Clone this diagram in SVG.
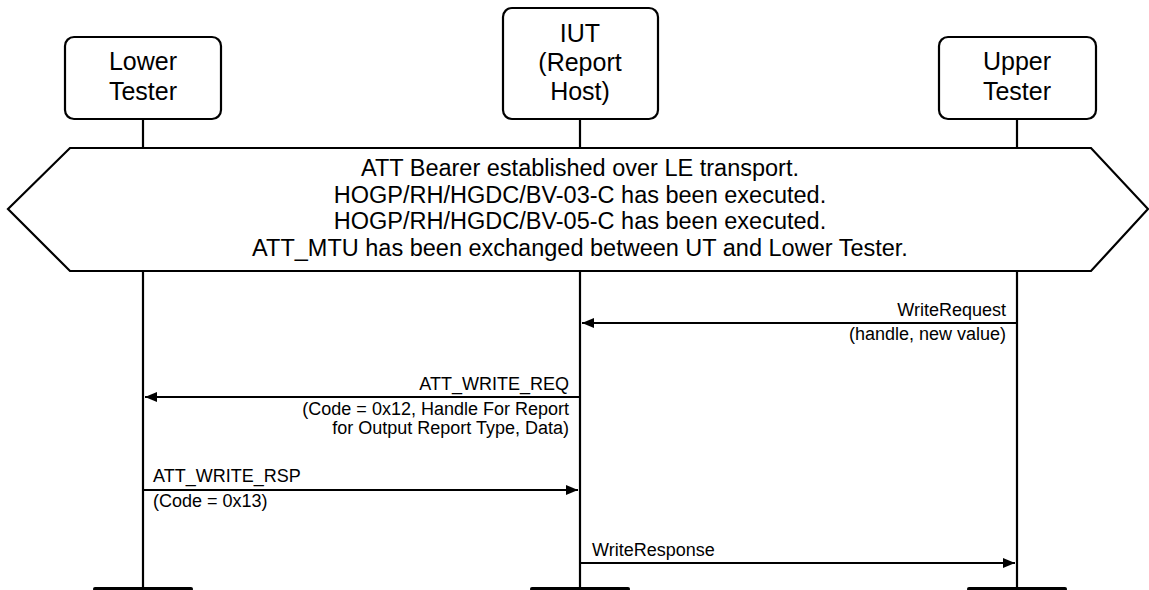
<svg xmlns="http://www.w3.org/2000/svg" width="1149" height="590" viewBox="0 0 1149 590">
<style>
.box{fill:#fff;stroke:#000;stroke-width:2.2}
.life{stroke:#000;stroke-width:2.2;fill:none}
.msg{stroke:#000;stroke-width:2;fill:none}
.bar{stroke:#000;stroke-width:4;stroke-linecap:round}
.nt{font-family:"Liberation Sans",Arial,sans-serif;font-size:25px;text-anchor:middle;fill:#000}
.ht{font-family:"Liberation Sans",Arial,sans-serif;font-size:23.5px;text-anchor:middle;fill:#000}
.ml{font-family:"Liberation Sans",Arial,sans-serif;font-size:18px;fill:#000}
.r{text-anchor:end}
</style>
<defs>
<marker id="ah" viewBox="0 0 12 10" refX="12" refY="5" markerWidth="12" markerHeight="10" markerUnits="userSpaceOnUse" orient="auto">
<path d="M0,0 L12,5 L0,10 z" fill="#000"/>
</marker>
</defs>
<g id="lifelines">
<line class="life" x1="143" y1="119" x2="143" y2="588"/>
<line class="life" x1="580" y1="119" x2="580" y2="588"/>
<line class="life" x1="1017" y1="119" x2="1017" y2="588"/>
<line class="bar" x1="95" y1="589" x2="191" y2="589"/>
<line class="bar" x1="532" y1="589" x2="628" y2="589"/>
<line class="bar" x1="969" y1="589" x2="1065" y2="589"/>
</g>
<g id="lower-tester">
<rect class="box" x="65" y="37" width="156" height="82" rx="9"/>
<text class="nt" x="143" y="70">Lower</text>
<text class="nt" x="143" y="100">Tester</text>
</g>
<g id="iut">
<rect class="box" x="503" y="8" width="155" height="111" rx="9"/>
<text class="nt" x="580" y="42">IUT</text>
<text class="nt" x="580" y="71">(Report</text>
<text class="nt" x="580" y="100">Host)</text>
</g>
<g id="upper-tester">
<rect class="box" x="939" y="37" width="157" height="82" rx="9"/>
<text class="nt" x="1017" y="70">Upper</text>
<text class="nt" x="1017" y="100">Tester</text>
</g>
<g id="precondition">
<polygon class="box" points="70,148 1091,148 1148,209 1091,271 70,271 8,209"/>
<text class="ht" x="580" y="176">ATT Bearer established over LE transport.</text>
<text class="ht" x="580" y="202.5">HOGP/RH/HGDC/BV-03-C has been executed.</text>
<text class="ht" x="580" y="229">HOGP/RH/HGDC/BV-05-C has been executed.</text>
<text class="ht" x="580" y="255.5">ATT_MTU has been exchanged between UT and Lower Tester.</text>
</g>
<g id="connectors">
<line class="msg" x1="1017" y1="323" x2="582" y2="323" marker-end="url(#ah)"/>
<text class="ml r" x="1006" y="316">WriteRequest</text>
<text class="ml r" x="1006" y="340">(handle, new value)</text>
<line class="msg" x1="580" y1="397" x2="145" y2="397" marker-end="url(#ah)"/>
<text class="ml r" x="569" y="390">ATT_WRITE_REQ</text>
<text class="ml r" x="569" y="415">(Code = 0x12, Handle For Report</text>
<text class="ml r" x="569" y="434">for Output Report Type, Data)</text>
<line class="msg" x1="143" y1="490" x2="578" y2="490" marker-end="url(#ah)"/>
<text class="ml" x="153" y="482">ATT_WRITE_RSP</text>
<text class="ml" x="153" y="507">(Code = 0x13)</text>
<line class="msg" x1="580" y1="563" x2="1015" y2="563" marker-end="url(#ah)"/>
<text class="ml" x="592" y="556">WriteResponse</text>
</g>
</svg>
